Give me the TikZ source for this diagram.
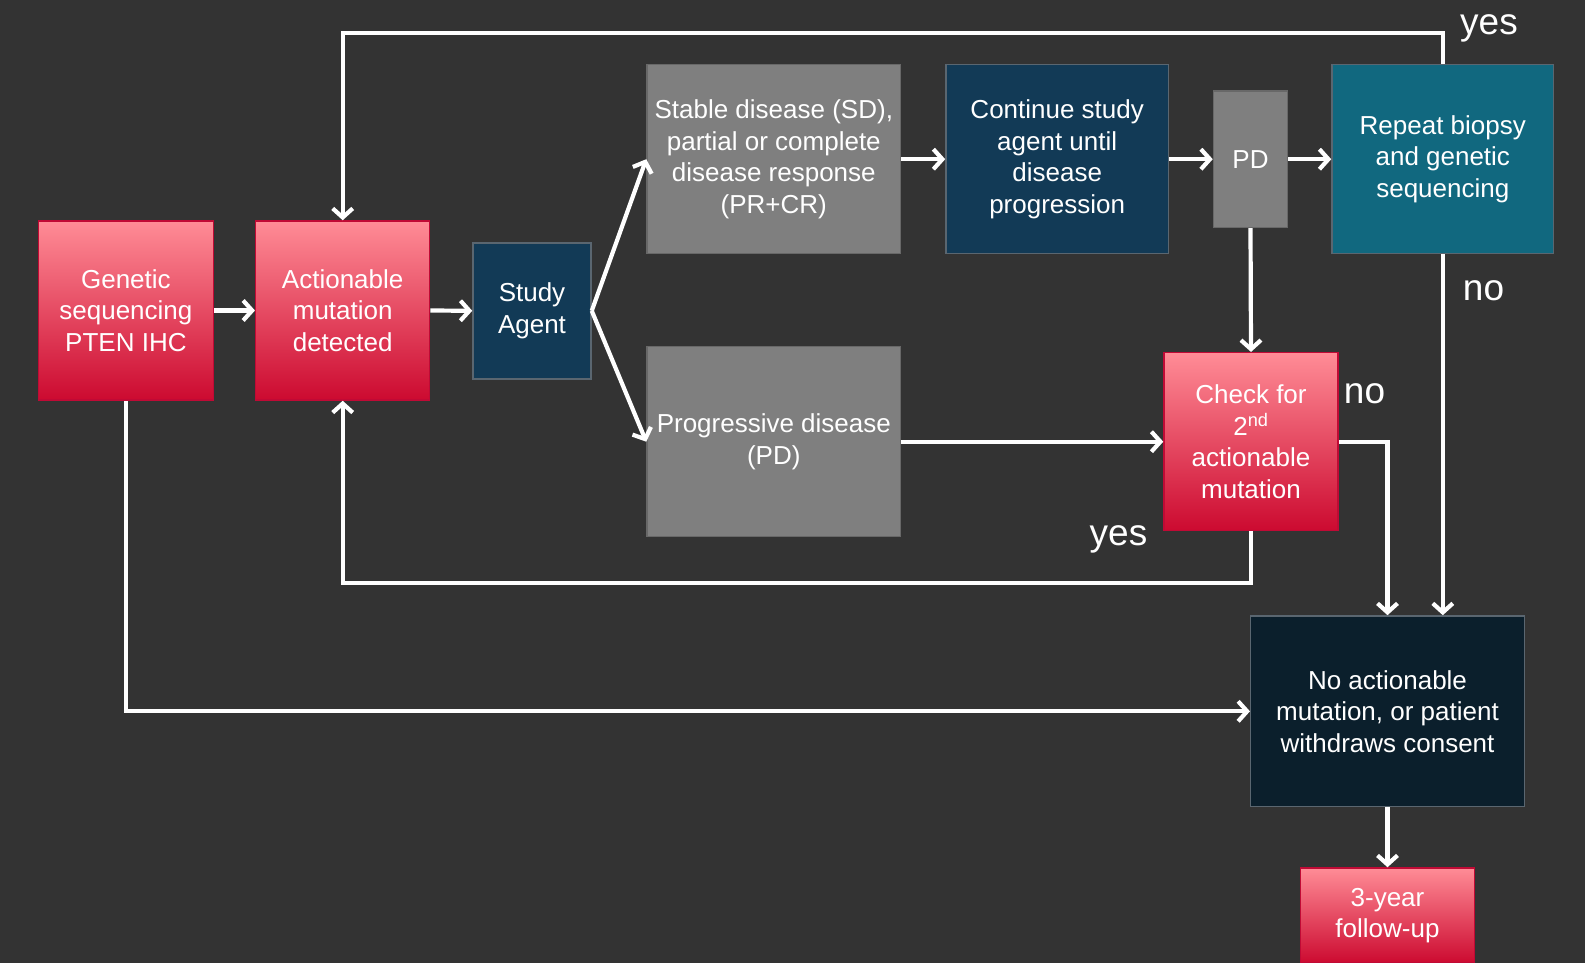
\documentclass[tikz,border=0pt]{standalone}
\usepackage{fontspec}
\setmainfont{Liberation Sans}
\usetikzlibrary{arrows.meta}
\definecolor{bg}{HTML}{333333}
\definecolor{redtop}{HTML}{FF8C96}
\definecolor{redbot}{HTML}{CC0A30}
\definecolor{redline}{HTML}{C00A35}
\definecolor{grayfill}{HTML}{7F7F7F}
\definecolor{grayline}{HTML}{686868}
\definecolor{bluefill}{HTML}{123A56}
\definecolor{tealfill}{HTML}{11687F}
\definecolor{navyfill}{HTML}{0B1F2C}
\definecolor{blueline}{HTML}{5A6670}
\tikzset{
  box/.style={rectangle, inner sep=0pt, align=center, text=white,
    font=\fontsize{26}{31.5}\selectfont, line width=1.5pt},
  redbox/.style={box, top color=redtop, bottom color=redbot, draw=redline},
  graybox/.style={box, fill=grayfill, draw=grayline},
  bluebox/.style={box, fill=bluefill, draw=blueline},
  tealbox/.style={box, fill=tealfill, draw=blueline},
  navybox/.style={box, fill=navyfill, draw=blueline},
  conn/.style={draw=white, line width=4.2pt,
    -{Straight Barb[length=9pt,width=20pt]}},
  lbl/.style={text=white, font=\fontsize{37}{40}\selectfont, anchor=base, inner sep=0pt}
}
\begin{document}
\begin{tikzpicture}[x=1pt,y=-1pt]
\useasboundingbox (0,0) rectangle (1585,963);
\fill[bg] (0,0) rectangle (1585,963);

\node[redbox, minimum width=175, minimum height=179] (gen) at (125.9,310.5) {Genetic\\sequencing\\PTEN IHC};
\node[redbox, minimum width=174, minimum height=179] (act) at (342.7,310.5) {Actionable\\mutation\\detected};
\node[bluebox, minimum width=118, minimum height=136] (agent) at (532,310.8) {Study\\Agent};
\node[graybox, minimum width=253.6, minimum height=189] (sd) at (773.8,159.2) {Stable disease (SD),\\partial or complete\\disease response\\(PR+CR)};
\node[graybox, minimum width=253.6, minimum height=190] (pdis) at (773.8,441.7) {Progressive disease\\(PD)};
\node[bluebox, minimum width=222.5, minimum height=189] (cont) at (1057.2,159.2) {Continue study\\agent until\\disease\\progression};
\node[graybox, minimum width=74, minimum height=136.4] (pd) at (1250.5,159.2) {PD};
\node[tealbox, minimum width=221.6, minimum height=189] (rep) at (1442.8,159.2) {Repeat biopsy\\and genetic\\sequencing};
\node[redbox, minimum width=174, minimum height=178] (chk) at (1251,441.7) {Check for\\2\textsuperscript{nd}\\actionable\\mutation};
\node[navybox, minimum width=273.6, minimum height=190.7] (noact) at (1387.5,711.3) {No actionable\\mutation, or patient\\withdraws consent};
\node[redbox, minimum width=173.6, minimum height=95] (fu) at (1387.5,915.5) {3-year\\follow-up};

% connectors
\draw[conn] (gen.east) -- (act.west);
\draw[conn] (act.east) -- (agent.west);
\draw[conn] (agent.east) -- (sd.west);
\draw[conn] (agent.east) -- (pdis.west);
\draw[conn] (sd.east) -- (cont.west);
\draw[conn] (cont.east) -- (pd.west);
\draw[conn] (pd.east) -- (rep.west);
\draw[conn] (pd.south) -- (chk.north);
\draw[conn] (pdis.east) -- (chk.west);
\draw[conn] (rep.north) |- (342.7,32.7) -- (act.north);
\draw[conn] (rep.south) -- (rep.south |- noact.north);
\draw[conn] (chk.east) -| (noact.north);
\draw[conn] (chk.south) |- (342.7,582.7) -- (act.south);
\draw[conn] (gen.south) |- (noact.west);
\draw[conn] (noact.south) -- (fu.north);

% labels
\node[lbl] (yes1) at (1489,35) {yes};
\node[lbl] (no1) at (1483.5,300.7) {no};
\node[lbl] (no2) at (1364.5,403.3) {no};
\node[lbl] (yes2) at (1118.5,545) {yes};
\end{tikzpicture}
\end{document}
